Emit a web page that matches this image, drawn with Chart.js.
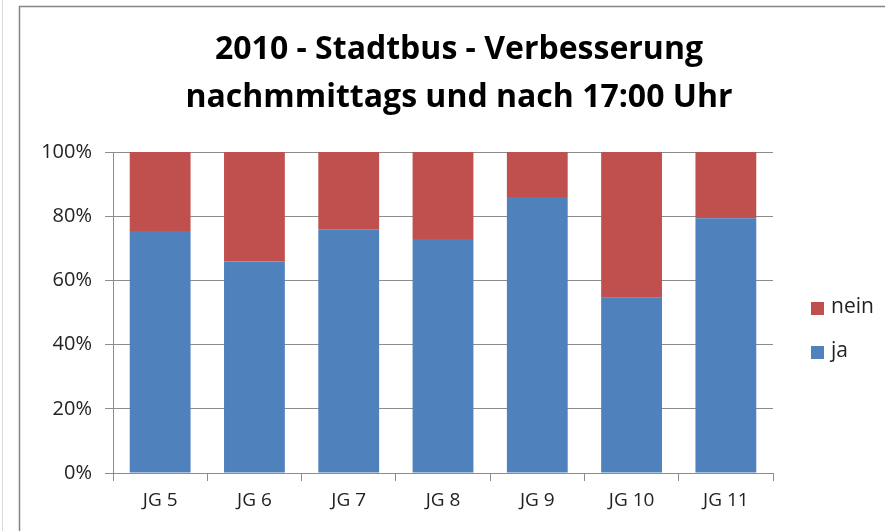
<!DOCTYPE html>
<html>
<head>
<meta charset="utf-8">
<script src="https://cdn.jsdelivr.net/npm/chart.js@4.4.1/dist/chart.umd.min.js"></script>
<style>
  html, body { margin: 0; padding: 0; background: #fff; }
  #wrap { width: 885px; height: 531px; position: relative; }
</style>
</head>
<body>
<div id="wrap"><canvas id="c" width="885" height="531"></canvas></div>
<script>
const titleLines = ["2010 - Stadtbus - Verbesserung", "nachmmittags und nach 17:00 Uhr"];
const categories = ["JG 5", "JG 6", "JG 7", "JG 8", "JG 9", "JG 10", "JG 11"];
const jaValues   = [75.4, 65.9, 75.9, 72.9, 86.0, 54.6, 79.4];
const neinValues = [24.6, 34.1, 24.1, 27.1, 14.0, 45.4, 20.6];
const yTicks = [0, 20, 40, 60, 80, 100];

const FONT = "'Open Sans', Lato, 'Liberation Sans', sans-serif";
const BLUE = "#4F81BD";
const RED = "#C0504D";
const GRID = "#8c8c8c";

const decor = {
  id: 'decor',
  beforeDraw(chart) {
    const ctx = chart.ctx;
    ctx.save();
    ctx.fillStyle = '#fff';
    ctx.fillRect(0, 0, chart.width, chart.height);
    ctx.strokeStyle = '#d9d9d9';
    ctx.lineWidth = 1;
    ctx.beginPath(); ctx.moveTo(2.5, 0); ctx.lineTo(2.5, chart.height); ctx.stroke();
    ctx.strokeStyle = '#858585';
    ctx.lineWidth = 1.5;
    ctx.beginPath();
    ctx.moveTo(19.5, chart.height + 2);
    ctx.lineTo(19.5, 6.5);
    ctx.lineTo(chart.width + 2, 6.5);
    ctx.stroke();
    ctx.restore();
  },
  afterDraw(chart) {
    const ctx = chart.ctx;
    ctx.save();
    ctx.fillStyle = '#000';
    ctx.font = "bold 32px " + FONT;
    ctx.textAlign = 'center';
    ctx.textBaseline = 'middle';
    ctx.fillText(titleLines[0], 459, 50);
    ctx.fillText(titleLines[1], 459, 98);
    const items = chart.data.datasets.slice().reverse();
    const ys = [308, 352];
    ctx.font = "21px " + FONT;
    ctx.textAlign = 'left';
    items.forEach((ds, i) => {
      ctx.fillStyle = ds.backgroundColor;
      ctx.fillRect(811, ys[i] - 6, 13, 13);
      ctx.fillStyle = '#222';
      ctx.fillText(ds.label, 831, ys[i] - 1);
    });
    ctx.restore();
  }
};

new Chart(document.getElementById('c'), {
  type: 'bar',
  data: {
    labels: categories,
    datasets: [
      { label: 'ja', data: jaValues, backgroundColor: BLUE, borderWidth: 0 },
      { label: 'nein', data: neinValues, backgroundColor: RED, borderWidth: 0 }
    ]
  },
  options: {
    responsive: false,
    animation: false,
    devicePixelRatio: 1,
    layout: { padding: { top: 152, left: 0, right: 112, bottom: 18 } },
    plugins: {
      legend: { display: false },
      title: { display: false },
      tooltip: { enabled: false }
    },
    datasets: { bar: { categoryPercentage: 1, barPercentage: 0.645 } },
    scales: {
      x: {
        stacked: true,
        offset: true,
        grid: { offset: true, drawOnChartArea: false, drawTicks: true, tickLength: 8, color: GRID },
        border: { color: GRID, width: 1 },
        ticks: { color: '#222', font: { family: FONT, size: 19 }, padding: 8 },
        afterFit(scale) { scale.height = 40; }
      },
      y: {
        stacked: true,
        min: 0, max: 100,
        afterBuildTicks(scale) { scale.ticks = yTicks.map(v => ({ value: v })); },
        grid: { color: GRID, tickLength: 8, drawTicks: true },
        border: { color: GRID, width: 1 },
        ticks: {
          color: '#222',
          font: { family: FONT, size: 20 },
          padding: 13,
          callback: v => v + '%'
        },
        afterFit(scale) { scale.width = 113; }
      }
    }
  },
  plugins: [decor]
});
</script>
</body>
</html>
